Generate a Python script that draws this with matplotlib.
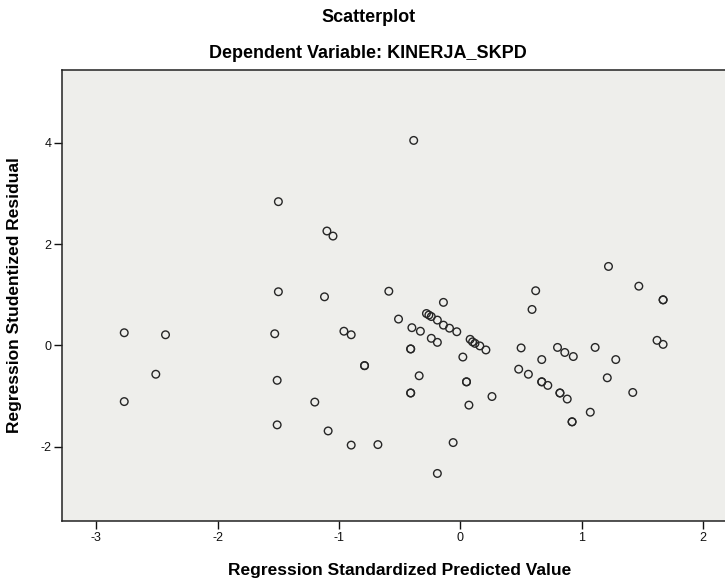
import matplotlib.pyplot as plt

# Data (points that look bold are listed twice)

pred_value = [
    -1.50, -1.10, -1.05, -1.50, -1.12, -2.77, -2.43, -1.53, -0.96, -0.90,
    -0.79, -0.79, -2.51, -1.51, -2.77, -1.20, -1.51, -1.09, -0.90, -0.68,
    -0.385, -0.06, -0.19,
    1.22, 1.47, 1.67, 1.67, -0.59, 0.62, 0.59, -0.14, -0.51,
    -0.28, -0.26, -0.24, -0.19, -0.14, -0.09, -0.03, -0.40, -0.33, -0.24,
    -0.19, -0.41, -0.41, 0.08, 0.10, 0.12, 0.16, 0.21, 0.02, -0.34,
    0.05, 0.05, -0.41, -0.41, 0.07, 0.26, 0.50, 0.67, 0.48, 0.56,
    0.67, 0.67, 0.72, 0.80, 0.86, 0.93, 1.11, 1.28, 0.82, 0.82,
    0.88, 1.21, 1.42, 1.07, 0.92, 0.92, 1.62, 1.67,
]

stud_resid = [
    2.84, 2.26, 2.16, 1.06, 0.96, 0.25, 0.21, 0.23, 0.28, 0.21,
    -0.40, -0.40, -0.57, -0.69, -1.11, -1.12, -1.57, -1.69, -1.97, -1.96,
    4.05, -1.92, -2.53,
    1.56, 1.17, 0.90, 0.90, 1.07, 1.08, 0.71, 0.85, 0.52,
    0.63, 0.60, 0.57, 0.50, 0.40, 0.34, 0.27, 0.35, 0.28, 0.14,
    0.06, -0.07, -0.07, 0.12, 0.07, 0.04, -0.01, -0.09, -0.23, -0.60,
    -0.72, -0.72, -0.94, -0.94, -1.18, -1.01, -0.05, -0.28, -0.47, -0.57,
    -0.72, -0.72, -0.79, -0.04, -0.14, -0.22, -0.04, -0.28, -0.94, -0.94,
    -1.06, -0.64, -0.93, -1.32, -1.51, -1.51, 0.10, 0.02,
]

x_ticks = [-3, -2, -1, 0, 1, 2]
y_ticks = [-2, 0, 2, 4]

plt.rcParams['font.family'] = ['Liberation Sans', 'DejaVu Sans']
plt.rcParams['axes.unicode_minus'] = False

fig = plt.figure(figsize=(7.25, 5.79), dpi=100)
ax = fig.add_axes([0.086, 0.101, 0.914, 0.778])
ax.set_facecolor('#EEEEEB')

ax.scatter(pred_value, stud_resid, s=30, facecolors='none',
           edgecolors='#262626', linewidths=1.0, zorder=3)

ax.set_xlim(-3.28, 2.18)
ax.set_ylim(-3.46, 5.44)
ax.set_xticks(x_ticks)
ax.set_yticks(y_ticks)
ax.tick_params(direction='out', length=6, width=1, labelsize=9,
               colors='#111111', pad=2)

for side in ['left', 'bottom', 'top']:
    ax.spines[side].set_color('#222222')
    ax.spines[side].set_linewidth(1.1)
ax.spines['right'].set_visible(False)

ax.set_xlabel('Regression Standardized Predicted Value',
              fontsize=12.5, fontweight='bold')
ax.xaxis.set_label_coords(0.509, -0.095)
ax.set_ylabel('Regression Studentized Residual',
              fontsize=12.5, fontweight='bold')
ax.yaxis.set_label_coords(-0.061, 0.5)

fig.text(0.508, 0.970, 'Scatterplot', ha='center', va='center',
         fontsize=13, fontweight='bold')
fig.text(0.508, 0.907, 'Dependent Variable: KINERJA_SKPD', ha='center',
         va='center', fontsize=13, fontweight='bold')

fig.savefig('out.png', dpi=100)
